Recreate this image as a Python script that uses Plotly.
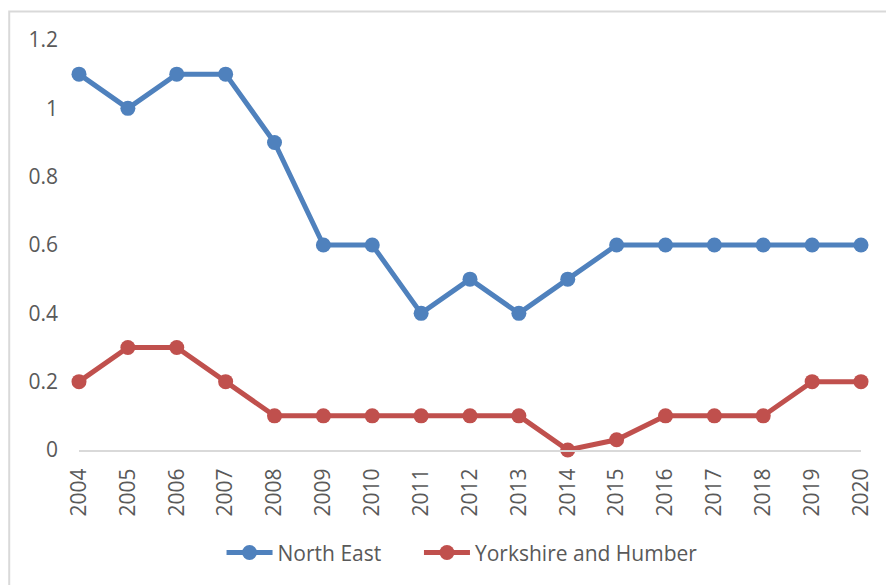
import plotly.graph_objects as go

years = list(range(2004, 2021))
north_east = [1.1, 1.0, 1.1, 1.1, 0.9, 0.6, 0.6, 0.4, 0.5, 0.4, 0.5, 0.6, 0.6, 0.6, 0.6, 0.6, 0.6]
yorkshire = [0.2, 0.3, 0.3, 0.2, 0.1, 0.1, 0.1, 0.1, 0.1, 0.1, 0.0, 0.03, 0.1, 0.1, 0.1, 0.2, 0.2]
y_ticks = [0, 0.2, 0.4, 0.6, 0.8, 1, 1.2]
y_tick_labels = ["0", "0.2", "0.4", "0.6", "0.8", "1", "1.2"]

FONT = "Open Sans"
TXT = "#595959"
FS = 21
NBSP = "\u00a0"

fig = go.Figure()
fig.add_trace(go.Scatter(x=years, y=north_east, name="North East" + NBSP * 6, mode="lines+markers",
                         line=dict(color="#4F81BD", width=5), marker=dict(size=15, color="#4F81BD"),
                         cliponaxis=False))
fig.add_trace(go.Scatter(x=years, y=yorkshire, name="Yorkshire and Humber", mode="lines+markers",
                         line=dict(color="#C0504D", width=5), marker=dict(size=15, color="#C0504D"),
                         cliponaxis=False))

fig.update_layout(
    width=886, height=585,
    margin=dict(l=79, r=17, t=40, b=135),
    paper_bgcolor="white", plot_bgcolor="white",
    font=dict(family=FONT, size=FS, color=TXT),
    showlegend=True,
    legend=dict(orientation="h", x=(223 - 79) / 790, xanchor="left", y=-0.251, yanchor="middle",
                font=dict(family=FONT, size=FS, color=TXT), itemwidth=46, tracegroupgap=0),
    xaxis=dict(range=[2004, 2020], tickmode="array", tickvals=years, ticktext=[str(y) for y in years],
               tickangle=-90, showgrid=False, zeroline=False, showline=True, linecolor="#D9D9D9",
               linewidth=2, ticks="", ticklabelstandoff=8,
               tickfont=dict(family=FONT, size=FS, color=TXT)),
    yaxis=dict(range=[0, 1.2], tickmode="array", tickvals=y_ticks, ticktext=y_tick_labels,
               showgrid=False, zeroline=False, showline=False, ticks="",
               ticklabelstandoff=20, tickfont=dict(family=FONT, size=FS, color=TXT)),
    shapes=[dict(type="rect", xref="paper", yref="paper",
                 x0=(8.5 - 79) / 790, x1=1.2, y0=-0.5, y1=(450 - 11.5) / 410,
                 line=dict(color="#D9D9D9", width=2), fillcolor="rgba(0,0,0,0)", layer="below")],
)

fig.write_html("out.html", config={"displayModeBar": False},
               post_script="document.body.style.margin='0';")
